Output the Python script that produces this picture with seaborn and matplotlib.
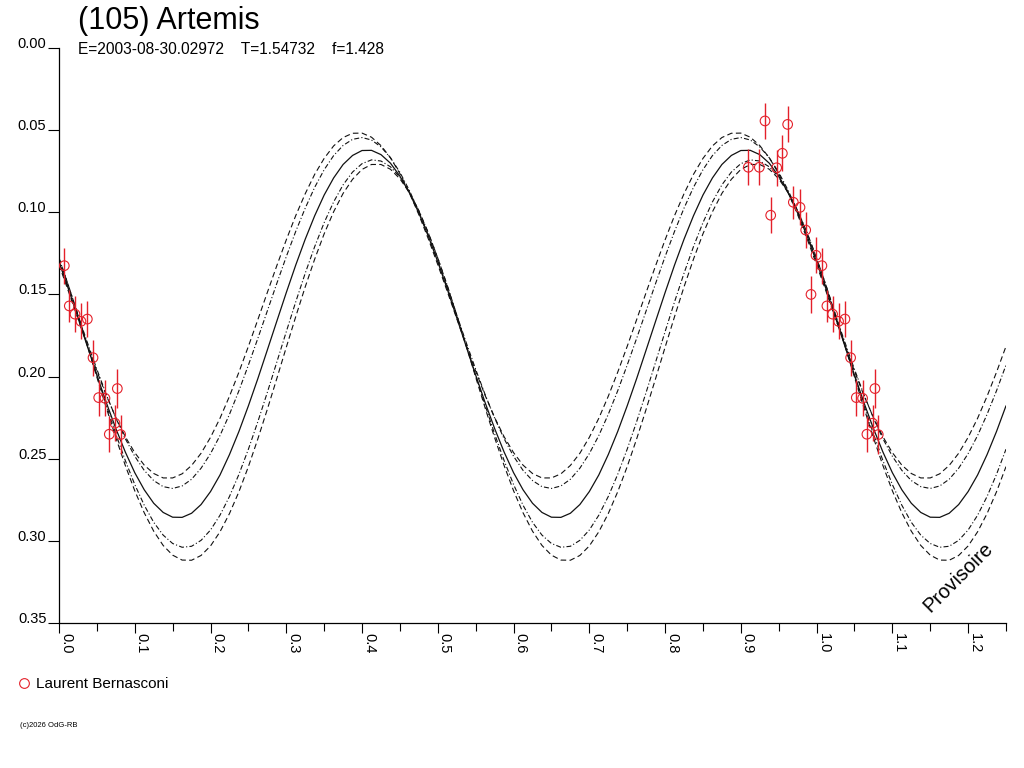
import numpy as np
import pandas as pd
import seaborn as sns
import matplotlib.pyplot as plt
from matplotlib.lines import Line2D

sns.set_theme(style='ticks')
plt.rcParams['font.family'] = ['Liberation Sans', 'DejaVu Sans']
plt.rcParams['text.color'] = 'black'
plt.rcParams['axes.edgecolor'] = 'black'
plt.rcParams['xtick.color'] = 'black'
plt.rcParams['ytick.color'] = 'black'

titre = '(105) Artemis'
sous_titre = 'E=2003-08-30.02972    T=1.54732    f=1.428'
observateur = 'Laurent Bernasconi'
copyright_txt = '(c)2026 OdG-RB'
mention = 'Provisoire'

phase_obs = [0.0070, 0.0136, 0.0211, 0.0290, 0.0374, 0.0449, 0.0524, 0.0607,
             0.0770, 0.0739, 0.0664, 0.0814,
             0.9319, 0.9618, 0.9548, 0.9099, 0.9244, 0.9473, 0.9394, 0.9693,
             0.9781, 0.9856, 0.9992, 0.9926]
mag_obs = [0.1325, 0.1570, 0.1620, 0.1664, 0.1650, 0.1885, 0.2128, 0.2132,
           0.2073, 0.2284, 0.2351, 0.2353,
           0.0444, 0.0465, 0.0641, 0.0726, 0.0726, 0.0729, 0.1018, 0.0939,
           0.0970, 0.1108, 0.1262, 0.1500]
err_obs = [0.011, 0.010, 0.011, 0.011, 0.011, 0.011, 0.011, 0.011,
           0.012, 0.011, 0.011, 0.012,
           0.011, 0.011, 0.011, 0.011, 0.011, 0.011, 0.011, 0.010,
           0.011, 0.011, 0.011, 0.011]

# courbes du modele (pas de 0.0125 en phase, de 0 a 1.25)
phase_modele = np.linspace(0.0, 1.25, 101)
modele = [
    0.1302, 0.1468, 0.1642, 0.1817, 0.1991, 0.2159, 0.2316, 0.2459, 0.2585, 0.2689,
    0.2771, 0.2827, 0.2856, 0.2857, 0.2832, 0.2779, 0.2700, 0.2599, 0.2475, 0.2334,
    0.2178, 0.2012, 0.1838, 0.1663, 0.1489, 0.1321, 0.1164, 0.1021, 0.0895, 0.0791,
    0.0709, 0.0654, 0.0624, 0.0623, 0.0649, 0.0701, 0.0780, 0.0882, 0.1005, 0.1146,
    0.1302, 0.1468, 0.1642, 0.1817, 0.1991, 0.2159, 0.2316, 0.2459, 0.2585, 0.2689,
    0.2771, 0.2827, 0.2856, 0.2857, 0.2832, 0.2779, 0.2700, 0.2599, 0.2475, 0.2334,
    0.2178, 0.2012, 0.1838, 0.1663, 0.1489, 0.1321, 0.1164, 0.1021, 0.0895, 0.0791,
    0.0709, 0.0654, 0.0624, 0.0623, 0.0649, 0.0701, 0.0780, 0.0882, 0.1005, 0.1146,
    0.1302, 0.1468, 0.1642, 0.1817, 0.1991, 0.2159, 0.2316, 0.2459, 0.2585, 0.2689,
    0.2771, 0.2827, 0.2856, 0.2857, 0.2832, 0.2779, 0.2700, 0.2599, 0.2475, 0.2334,
    0.2178]
tirets_haut = [
    0.1319, 0.1482, 0.1647, 0.1810, 0.1967, 0.2115, 0.2249, 0.2366, 0.2463, 0.2539,
    0.2590, 0.2617, 0.2617, 0.2592, 0.2541, 0.2467, 0.2370, 0.2254, 0.2120, 0.1973,
    0.1816, 0.1653, 0.1488, 0.1325, 0.1168, 0.1020, 0.0887, 0.0769, 0.0672, 0.0596,
    0.0545, 0.0519, 0.0518, 0.0543, 0.0594, 0.0668, 0.0765, 0.0881, 0.1015, 0.1162,
    0.1319, 0.1482, 0.1647, 0.1810, 0.1967, 0.2115, 0.2249, 0.2366, 0.2463, 0.2539,
    0.2590, 0.2617, 0.2617, 0.2592, 0.2541, 0.2467, 0.2370, 0.2254, 0.2120, 0.1973,
    0.1816, 0.1653, 0.1488, 0.1325, 0.1168, 0.1020, 0.0887, 0.0769, 0.0672, 0.0596,
    0.0545, 0.0519, 0.0518, 0.0543, 0.0594, 0.0668, 0.0765, 0.0881, 0.1015, 0.1162,
    0.1319, 0.1482, 0.1647, 0.1810, 0.1967, 0.2115, 0.2249, 0.2366, 0.2463, 0.2539,
    0.2590, 0.2617, 0.2617, 0.2592, 0.2541, 0.2467, 0.2370, 0.2254, 0.2120, 0.1973,
    0.1816]
points_haut = [
    0.1296, 0.1459, 0.1626, 0.1793, 0.1956, 0.2110, 0.2252, 0.2378, 0.2485, 0.2571,
    0.2633, 0.2670, 0.2681, 0.2666, 0.2625, 0.2558, 0.2469, 0.2359, 0.2230, 0.2086,
    0.1930, 0.1767, 0.1600, 0.1433, 0.1270, 0.1116, 0.0975, 0.0848, 0.0741, 0.0655,
    0.0593, 0.0556, 0.0545, 0.0560, 0.0602, 0.0668, 0.0757, 0.0867, 0.0996, 0.1140,
    0.1296, 0.1459, 0.1626, 0.1793, 0.1956, 0.2110, 0.2252, 0.2378, 0.2485, 0.2571,
    0.2633, 0.2670, 0.2681, 0.2666, 0.2625, 0.2558, 0.2469, 0.2359, 0.2230, 0.2086,
    0.1930, 0.1767, 0.1600, 0.1433, 0.1270, 0.1116, 0.0975, 0.0848, 0.0741, 0.0655,
    0.0593, 0.0556, 0.0545, 0.0560, 0.0602, 0.0668, 0.0757, 0.0867, 0.0996, 0.1140,
    0.1296, 0.1459, 0.1626, 0.1793, 0.1956, 0.2110, 0.2252, 0.2378, 0.2485, 0.2571,
    0.2633, 0.2670, 0.2681, 0.2666, 0.2625, 0.2558, 0.2469, 0.2359, 0.2230, 0.2086,
    0.1930]
points_bas = [
    0.1279, 0.1446, 0.1624, 0.1808, 0.1993, 0.2175, 0.2349, 0.2511, 0.2657, 0.2783,
    0.2887, 0.2965, 0.3016, 0.3039, 0.3033, 0.2997, 0.2934, 0.2844, 0.2730, 0.2595,
    0.2442, 0.2274, 0.2096, 0.1912, 0.1727, 0.1545, 0.1371, 0.1209, 0.1063, 0.0937,
    0.0833, 0.0755, 0.0704, 0.0681, 0.0688, 0.0723, 0.0786, 0.0876, 0.0990, 0.1125,
    0.1279, 0.1446, 0.1624, 0.1808, 0.1993, 0.2175, 0.2349, 0.2511, 0.2657, 0.2783,
    0.2887, 0.2965, 0.3016, 0.3039, 0.3033, 0.2997, 0.2934, 0.2844, 0.2730, 0.2595,
    0.2442, 0.2274, 0.2096, 0.1912, 0.1727, 0.1545, 0.1371, 0.1209, 0.1063, 0.0937,
    0.0833, 0.0755, 0.0704, 0.0681, 0.0688, 0.0723, 0.0786, 0.0876, 0.0990, 0.1125,
    0.1279, 0.1446, 0.1624, 0.1808, 0.1993, 0.2175, 0.2349, 0.2511, 0.2657, 0.2783,
    0.2887, 0.2965, 0.3016, 0.3039, 0.3033, 0.2997, 0.2934, 0.2844, 0.2730, 0.2595,
    0.2442]
tirets_bas = [
    0.1279, 0.1447, 0.1627, 0.1814, 0.2004, 0.2191, 0.2372, 0.2541, 0.2695, 0.2829,
    0.2941, 0.3028, 0.3087, 0.3117, 0.3118, 0.3089, 0.3031, 0.2945, 0.2834, 0.2701,
    0.2548, 0.2379, 0.2199, 0.2012, 0.1822, 0.1635, 0.1454, 0.1285, 0.1131, 0.0997,
    0.0885, 0.0799, 0.0739, 0.0709, 0.0709, 0.0738, 0.0796, 0.0881, 0.0992, 0.1126,
    0.1279, 0.1447, 0.1627, 0.1814, 0.2004, 0.2191, 0.2372, 0.2541, 0.2695, 0.2829,
    0.2941, 0.3028, 0.3087, 0.3117, 0.3118, 0.3089, 0.3031, 0.2945, 0.2834, 0.2701,
    0.2548, 0.2379, 0.2199, 0.2012, 0.1822, 0.1635, 0.1454, 0.1285, 0.1131, 0.0997,
    0.0885, 0.0799, 0.0739, 0.0709, 0.0709, 0.0738, 0.0796, 0.0881, 0.0992, 0.1126,
    0.1279, 0.1447, 0.1627, 0.1814, 0.2004, 0.2191, 0.2372, 0.2541, 0.2695, 0.2829,
    0.2941, 0.3028, 0.3087, 0.3117, 0.3118, 0.3089, 0.3031, 0.2945, 0.2834, 0.2701,
    0.2548]

x_ticks = [0.0, 0.1, 0.2, 0.3, 0.4, 0.5, 0.6, 0.7, 0.8, 0.9, 1.0, 1.1, 1.2]
x_minor = [0.05, 0.15, 0.25, 0.35, 0.45, 0.55, 0.65, 0.75, 0.85, 0.95, 1.05, 1.15, 1.25]
y_ticks = [0.00, 0.05, 0.10, 0.15, 0.20, 0.25, 0.30, 0.35]

rouge = '#e4202a'
noir = '#111111'

# on replie les phases : chaque mesure est aussi tracee a phase + 1
df = pd.DataFrame({'phase': phase_obs, 'mag': mag_obs, 'err': err_obs})
df2 = df.copy()
df2['phase'] = df2['phase'] + 1
df_plot = pd.concat([df, df2])
df_plot = df_plot[(df_plot['phase'] >= 0) & (df_plot['phase'] <= 1.25)]

fig = plt.figure(figsize=(10.24, 7.68), dpi=100)
ax = fig.add_axes([59/1024, 1 - 623/768, 947/1024, 575/768])

tiret = (0, (5, 3))
tiret_point = (0, (4.5, 2, 1, 2))
sns.lineplot(x=phase_modele, y=tirets_haut, ax=ax, color=noir, lw=0.8, linestyle=tiret)
sns.lineplot(x=phase_modele, y=points_haut, ax=ax, color=noir, lw=0.8, linestyle=tiret_point)
sns.lineplot(x=phase_modele, y=modele, ax=ax, color=noir, lw=0.9)
sns.lineplot(x=phase_modele, y=points_bas, ax=ax, color=noir, lw=0.8, linestyle=tiret_point)
sns.lineplot(x=phase_modele, y=tirets_bas, ax=ax, color=noir, lw=0.8, linestyle=tiret)

ax.errorbar(df_plot['phase'], df_plot['mag'], yerr=df_plot['err'], fmt='none',
            ecolor=rouge, elinewidth=1.0, capsize=0, zorder=3)
sns.scatterplot(data=df_plot, x='phase', y='mag', ax=ax, marker='o', s=48,
                facecolor='none', edgecolor=rouge, linewidth=0.8, zorder=4)

ax.set_xlim(0, 1.25)
ax.set_ylim(0.35, 0.0)
ax.set_xlabel('')
ax.set_ylabel('')
ax.spines[['top', 'right']].set_visible(False)
ax.spines['left'].set_linewidth(0.9)
ax.spines['bottom'].set_linewidth(0.9)

ax.set_xticks(x_ticks)
ax.set_xticks(x_minor, minor=True)
ax.set_xticklabels([f'{v:.1f}' for v in x_ticks])
ax.set_yticks(y_ticks)
ax.set_yticklabels([f'{v:.2f}' for v in y_ticks])
ax.tick_params(axis='x', which='major', length=7.5, width=0.8, pad=0, labelsize=10.5)
ax.tick_params(axis='x', which='minor', length=6, width=0.8)
ax.tick_params(axis='y', length=8, width=0.8, pad=1, labelsize=10.5)
for lab in ax.get_xticklabels():
    lab.set_rotation(270)
    lab.set_ha('left')
    lab.set_va('top')
for lab in ax.get_yticklabels():
    lab.set_va('baseline')

fig.text(78/1024, 1 - 29/768, titre, fontsize=22, va='baseline')
fig.text(78/1024, 1 - 54/768, sous_titre, fontsize=11.2, va='baseline')
fig.text(958/1024, 1 - 577/768, mention, fontsize=14.5, rotation=45,
         ha='center', va='center')
fig.text(20/1024, 1 - 727/768, copyright_txt, fontsize=5.5, va='baseline')

poignee = Line2D([], [], marker='o', ls='none', mfc='none', mec=rouge, ms=7, mew=0.8)
ax.legend(handles=[poignee], labels=[observateur], loc='center left',
          bbox_to_anchor=(16.5/1024, 1 - 684/768), bbox_transform=fig.transFigure,
          frameon=False, fontsize=11, handlelength=1, handletextpad=0.3,
          borderpad=0, borderaxespad=0)

fig.savefig('out.png', dpi=100, facecolor='white')
